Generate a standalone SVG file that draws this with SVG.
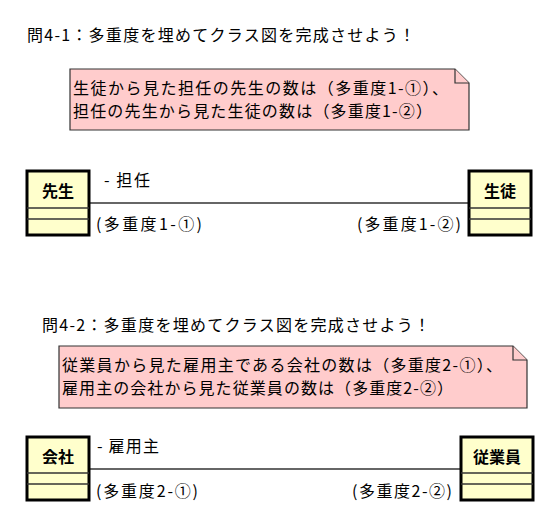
<svg xmlns="http://www.w3.org/2000/svg" width="553" height="515" viewBox="0 0 553 515">
<style>
text{font-family:"Noto Sans CJK JP","Noto Sans",sans-serif;fill:#000}
.t{font-size:16px}
.l{font-size:16px}
.cn{font-size:16px;font-weight:bold;text-anchor:middle}
.box{fill:#ffffcc;stroke:#000;stroke-width:3}
.sep{stroke:#333;stroke-width:1.5}
.note{fill:#ffcccc;stroke:#333;stroke-width:1.2}
.conn{stroke:#333;stroke-width:1.5;fill:none}
</style>
<rect width="553" height="515" fill="#fff"/>
<g id="title1"><text class="t" x="27" y="41" textLength="388" lengthAdjust="spacing">問4-1：多重度を埋めてクラス図を完成させよう！</text></g>
<g id="note1">
<path class="note" d="M70,69 H455 L469,83 V130 H70 Z"/>
<path class="note" d="M455,69 V83 H469" fill="none"/>
<text class="t" x="73" y="94" textLength="375" lengthAdjust="spacing">生徒から見た担任の先生の数は（多重度1-①）、</text>
<text class="t" x="73" y="117" textLength="359" lengthAdjust="spacing">担任の先生から見た生徒の数は（多重度1-②）</text>
</g>
<g id="connectors">
<line class="conn" x1="89" y1="203" x2="469" y2="203"/>
<line class="conn" x1="89" y1="469" x2="461" y2="469"/>
</g>
<g id="labels1">
<text class="l" x="104" y="186" textLength="46" lengthAdjust="spacing">- 担任</text>
<text class="l" x="96" y="230" textLength="106" lengthAdjust="spacing">(多重度1-①)</text>
<text class="l" x="461" y="230" text-anchor="end" textLength="104" lengthAdjust="spacing">(多重度1-②)</text>
</g>
<g id="sensei">
<rect class="box" x="27" y="171" width="62" height="64"/>
<line class="sep" x1="27" y1="208" x2="89" y2="208"/>
<line class="sep" x1="27" y1="219" x2="89" y2="219"/>
<text class="cn" x="58" y="197">先生</text>
</g>
<g id="seito">
<rect class="box" x="469" y="171" width="62" height="64"/>
<line class="sep" x1="469" y1="208" x2="531" y2="208"/>
<line class="sep" x1="469" y1="219" x2="531" y2="219"/>
<text class="cn" x="500" y="197">生徒</text>
</g>
<g id="title2"><text class="t" x="42" y="331" textLength="388" lengthAdjust="spacing">問4-2：多重度を埋めてクラス図を完成させよう！</text></g>
<g id="note2">
<path class="note" d="M59,346 H513 L527,360 V408 H59 Z"/>
<path class="note" d="M513,346 V360 H527" fill="none"/>
<text class="t" x="62" y="371" textLength="440" lengthAdjust="spacing">従業員から見た雇用主である会社の数は（多重度2-①）、</text>
<text class="t" x="62" y="394" textLength="391" lengthAdjust="spacing">雇用主の会社から見た従業員の数は（多重度2-②）</text>
</g>
<g id="labels2">
<text class="l" x="97" y="452" textLength="62" lengthAdjust="spacing">- 雇用主</text>
<text class="l" x="96" y="497" textLength="102" lengthAdjust="spacing">(多重度2-①)</text>
<text class="l" x="452" y="497" text-anchor="end" textLength="100" lengthAdjust="spacing">(多重度2-②)</text>
</g>
<g id="kaisha">
<rect class="box" x="27" y="437" width="62" height="63"/>
<line class="sep" x1="27" y1="473" x2="89" y2="473"/>
<line class="sep" x1="27" y1="484" x2="89" y2="484"/>
<text class="cn" x="58" y="463">会社</text>
</g>
<g id="jugyoin">
<rect class="box" x="461" y="437" width="72" height="63"/>
<line class="sep" x1="461" y1="473" x2="533" y2="473"/>
<line class="sep" x1="461" y1="484" x2="533" y2="484"/>
<text class="cn" x="497" y="463">従業員</text>
</g>
</svg>
